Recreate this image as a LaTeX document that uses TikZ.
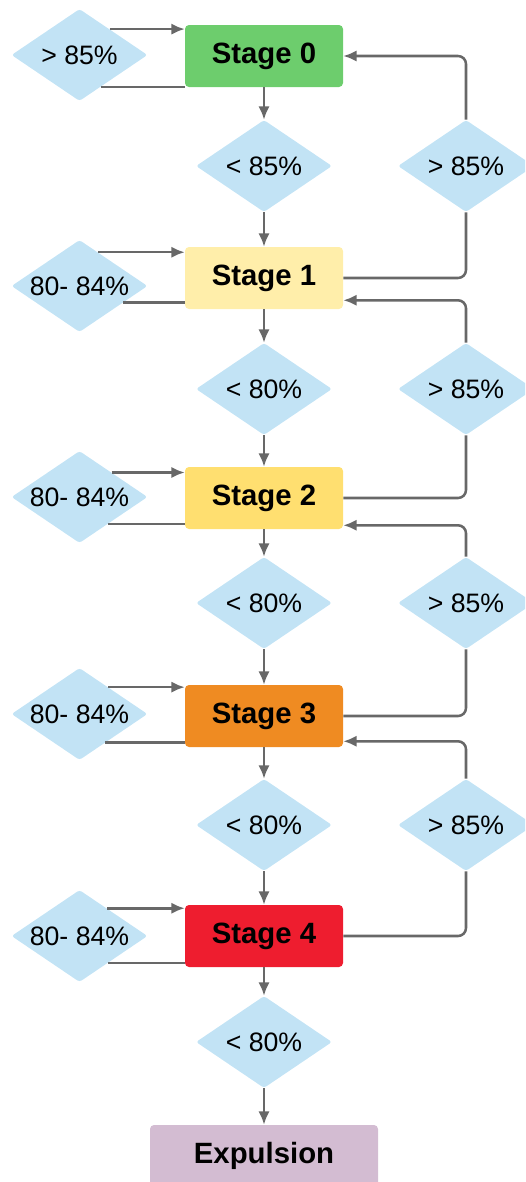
\documentclass[tikz,border=0pt]{standalone}
\usepackage{fontspec}
\setmainfont{Liberation Sans}
\usetikzlibrary{arrows.meta,shapes.geometric,calc}
\definecolor{lineg}{HTML}{686868}
\definecolor{condblue}{HTML}{C2E3F5}
\definecolor{st0}{HTML}{6DCD6D}
\definecolor{st1}{HTML}{FFEEAA}
\definecolor{st2}{HTML}{FFDF70}
\definecolor{st3}{HTML}{EF8B22}
\definecolor{st4}{HTML}{EE1D2F}
\definecolor{expl}{HTML}{D3BCD2}
\tikzset{
  stagebox/.style={rectangle, rounded corners=3pt, minimum width=118.5pt, minimum height=46.5pt, inner sep=0pt, font=\bfseries\fontsize{22}{26}\selectfont},
  cond/.style={diamond, aspect=1.5, fill=condblue, rounded corners=2pt, minimum width=102pt, minimum height=69pt, inner sep=0pt, font=\fontsize{20}{24}\selectfont},
  flow/.style={draw=lineg, line width=1.9pt, rounded corners=6pt},
  tip/.style={-{Latex[length=10pt,width=8.5pt]}},
}

\begin{document}
\begin{tikzpicture}[x=0.75pt,y=-0.75pt]
        \useasboundingbox (0,0) rectangle (525,1182);
        \clip (0,0) rectangle (525,1182);
        \node[stagebox, fill=st0] at (264,56) (s0) {Stage 0};
        \node[stagebox, fill=st1] at (264,278) (s1) {Stage 1};
        \node[stagebox, fill=st2] at (264,498) (s2) {Stage 2};
        \node[stagebox, fill=st3] at (264,716) (s3) {Stage 3};
        \node[stagebox, fill=st4] at (264,936) (s4) {Stage 4};
        \node[stagebox, fill=expl, minimum width=171pt] at (264,1156) (ex) {Expulsion};
        \node[cond] at (264,166) (m0) {< 85\%};
        \node[cond] at (264,389) (m1) {< 80\%};
        \node[cond] at (264,603) (m2) {< 80\%};
        \node[cond] at (264,825) (m3) {< 80\%};
        \node[cond] at (264,1042) (m4) {< 80\%};
        \node[cond] at (466,166) (r0) {> 85\%};
        \node[cond] at (466,389) (r1) {> 85\%};
        \node[cond] at (466,603) (r2) {> 85\%};
        \node[cond] at (466,825) (r3) {> 85\%};
        \node[cond] at (79.5,55) (l0) {> 85\%};
        \node[cond] at (79.5,286) (l1) {80- 84\%};
        \node[cond] at (79.5,497) (l2) {80- 84\%};
        \node[cond] at (79.5,714) (l3) {80- 84\%};
        \node[cond] at (79.5,936) (l4) {80- 84\%};
        \draw[flow,tip] (s0) -- (m0);
        \draw[flow,tip] (m0) -- (s1);
        \draw[flow,tip] (s1) -- (m1);
        \draw[flow,tip] (m1) -- (s2);
        \draw[flow,tip] (s2) -- (m2);
        \draw[flow,tip] (m2) -- (s3);
        \draw[flow,tip] (s3) -- (m3);
        \draw[flow,tip] (m3) -- (s4);
        \draw[flow,tip] (s4) -- (m4);
        \draw[flow,tip] (m4) -- (ex);
        \draw[flow] (s1.east) -| (r0.south);
        \draw[flow,tip] (r0.north) |- (s0.east);
        \draw[flow] (s2.east) -| (r1.south);
        \draw[flow,tip] (r1.north) |- ($(s1.south east)+(0,-9)$);
        \draw[flow] (s3.east) -| (r2.south);
        \draw[flow,tip] (r2.north) |- ($(s2.south east)+(0,-4)$);
        \draw[flow] (s4.east) -| (r3.south);
        \draw[flow,tip] (r3.north) |- ($(s3.south east)+(0,-6)$);
        \coordinate (a0) at ($(l0.north)!0.44!(l0.east)$);
        \coordinate (b0) at ($(l0.south)!0.31!(l0.east)$);
        \draw[flow,tip] (a0) -- (a0 -| s0.west);
        \draw[flow] (b0 -| s0.west) -- (b0);
        \coordinate (a1) at ($(l1.north)!0.27!(l1.east)$);
        \coordinate (b1) at ($(l1.south)!0.64!(l1.east)$);
        \draw[flow,tip] (a1) -- (a1 -| s1.west);
        \draw[flow] (b1 -| s1.west) -- (b1);
        \coordinate (a2) at ($(l2.north)!0.47!(l2.east)$);
        \coordinate (b2) at ($(l2.south)!0.42!(l2.east)$);
        \draw[flow,tip] (a2) -- (a2 -| s2.west);
        \draw[flow] (b2 -| s2.west) -- (b2);
        \coordinate (a3) at ($(l3.north)!0.42!(l3.east)$);
        \coordinate (b3) at ($(l3.south)!0.38!(l3.east)$);
        \draw[flow,tip] (a3) -- (a3 -| s3.west);
        \draw[flow] (b3 -| s3.west) -- (b3);
        \coordinate (a4) at ($(l4.north)!0.40!(l4.east)$);
        \coordinate (b4) at ($(l4.south)!0.42!(l4.east)$);
        \draw[flow,tip] (a4) -- (a4 -| s4.west);
        \draw[flow] (b4 -| s4.west) -- (b4);
    \end{tikzpicture}
\end{document}
